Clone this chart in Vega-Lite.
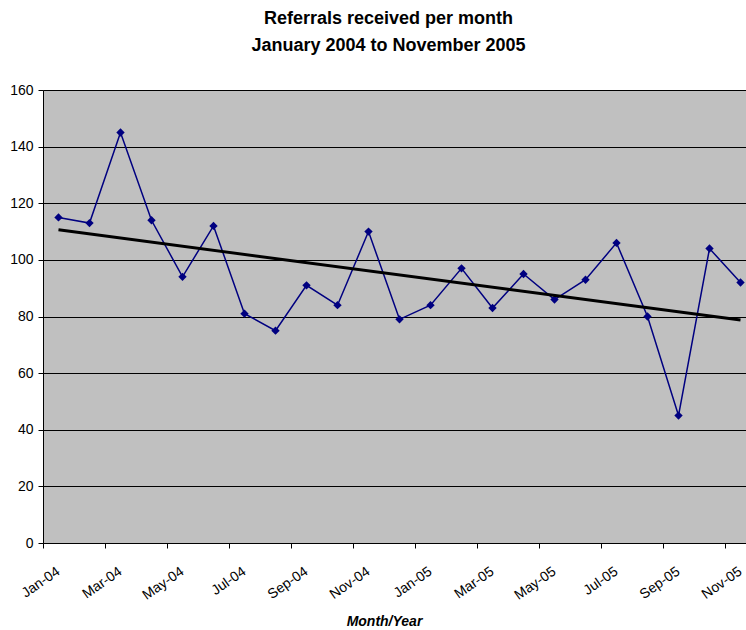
{
  "$schema": "https://vega.github.io/schema/vega-lite/v6.json",
  "autosize": {"type": "none"},
  "padding": {"left": 43, "top": 90, "right": 0, "bottom": 87},
  "width": 703,
  "height": 453,
  "background": "white",
  "title": {
    "text": ["Referrals received per month", "January 2004 to November 2005"],
    "font": "Liberation Sans",
    "fontSize": 18,
    "fontWeight": "bold",
    "color": "black",
    "anchor": "middle",
    "frame": "group",
    "dx": -6,
    "offset": 28,
    "lineHeight": 27
  },
  "data": {
    "values": [
      {"i": 0, "month": "Jan-04", "referrals": 115},
      {"i": 1, "month": "Feb-04", "referrals": 113},
      {"i": 2, "month": "Mar-04", "referrals": 145},
      {"i": 3, "month": "Apr-04", "referrals": 114},
      {"i": 4, "month": "May-04", "referrals": 94},
      {"i": 5, "month": "Jun-04", "referrals": 112},
      {"i": 6, "month": "Jul-04", "referrals": 81},
      {"i": 7, "month": "Aug-04", "referrals": 75},
      {"i": 8, "month": "Sep-04", "referrals": 91},
      {"i": 9, "month": "Oct-04", "referrals": 84},
      {"i": 10, "month": "Nov-04", "referrals": 110},
      {"i": 11, "month": "Dec-04", "referrals": 79},
      {"i": 12, "month": "Jan-05", "referrals": 84},
      {"i": 13, "month": "Feb-05", "referrals": 97},
      {"i": 14, "month": "Mar-05", "referrals": 83},
      {"i": 15, "month": "Apr-05", "referrals": 95},
      {"i": 16, "month": "May-05", "referrals": 86},
      {"i": 17, "month": "Jun-05", "referrals": 93},
      {"i": 18, "month": "Jul-05", "referrals": 106},
      {"i": 19, "month": "Aug-05", "referrals": 80},
      {"i": 20, "month": "Sep-05", "referrals": 45},
      {"i": 21, "month": "Oct-05", "referrals": 104},
      {"i": 22, "month": "Nov-05", "referrals": 92}
    ]
  },
  "encoding": {
    "x": {
      "field": "i",
      "type": "quantitative",
      "scale": {"domain": [-0.5, 22.177], "nice": false, "zero": false},
      "axis": {
        "values": [-0.5, 1.5, 3.5, 5.5, 7.5, 9.5, 11.5, 13.5, 15.5, 17.5, 19.5, 21.5],
        "labelExpr": "['Jan-04','Mar-04','May-04','Jul-04','Sep-04','Nov-04','Jan-05','Mar-05','May-05','Jul-05','Sep-05','Nov-05'][round((datum.value+0.5)/2)]",
        "labelAngle": -35,
        "labelAlign": "right",
        "labelBaseline": "top",
        "labelOffset": 11,
        "labelPadding": 16,
        "labelFont": "Liberation Sans",
        "labelFontSize": 14,
        "labelColor": "black",
        "labelOverlap": false,
        "labelBound": false,
        "labelFlush": false,
        "grid": false,
        "domainColor": "black",
        "domainWidth": 1,
        "tickColor": "black",
        "tickSize": 5,
        "title": "Month/Year",
        "titleFont": "Liberation Sans",
        "titleFontSize": 14,
        "titleFontWeight": "bold",
        "titleFontStyle": "italic",
        "titleColor": "black",
        "titleX": 341,
        "titleY": 82,
        "titleAnchor": "middle",
        "titleAlign": "center",
        "titleBaseline": "alphabetic"
      }
    },
    "y": {
      "field": "referrals",
      "type": "quantitative",
      "scale": {"domain": [0, 160], "nice": false},
      "axis": {
        "values": [0, 20, 40, 60, 80, 100, 120, 140, 160],
        "title": null,
        "grid": true,
        "gridColor": "black",
        "gridWidth": 1,
        "gridOpacity": 1,
        "domainColor": "black",
        "tickColor": "black",
        "tickSize": 5,
        "labelPadding": 5,
        "labelFont": "Liberation Sans",
        "labelFontSize": 14,
        "labelColor": "black"
      }
    }
  },
  "layer": [
    {
      "mark": {"type": "line", "color": "#000080", "strokeWidth": 1.5},
      "encoding": {}
    },
    {
      "mark": {"type": "point", "shape": "diamond", "filled": true, "color": "#000080", "opacity": 1, "size": 70},
      "encoding": {}
    },
    {
      "transform": [
        {"regression": "referrals", "on": "i", "method": "linear"}
      ],
      "mark": {"type": "line", "color": "black", "strokeWidth": 3},
      "encoding": {}
    }
  ],
  "config": {
    "view": {"fill": "#C0C0C0", "stroke": null}
  }
}
